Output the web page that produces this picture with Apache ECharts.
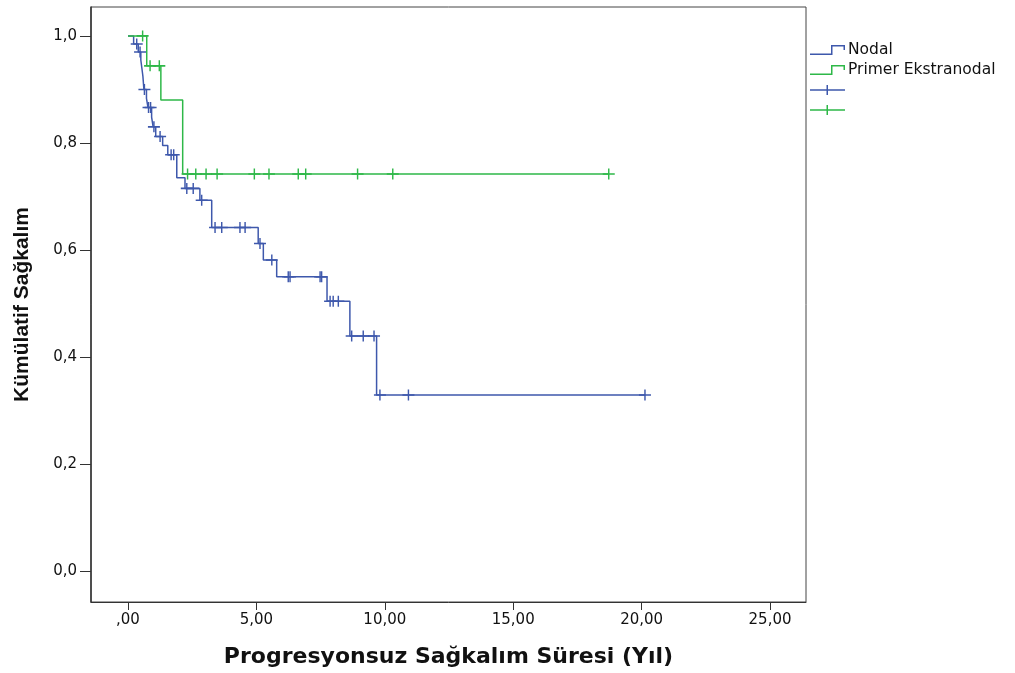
<!DOCTYPE html>
<html>
<head>
<meta charset="utf-8">
<script src="https://cdn.jsdelivr.net/npm/echarts@6/dist/echarts.min.js"></script>
<style>
  html, body { margin: 0; padding: 0; background: #fff; }
  #main { width: 1015px; height: 673px; }
</style>
</head>
<body>
<div id="main"></div>
<script>
// Nodal: zaman (yıl) ve olaydan sonraki kümülatif sağkalım
var nodalT = [0, 0.22, 0.40, 0.50, 0.54, 0.58, 0.62, 0.72, 0.78, 0.92, 0.98, 1.08, 1.35, 1.55, 1.90, 2.22, 2.80, 3.26, 5.07, 5.27, 5.79, 7.75, 8.64, 9.68, 20.13];
var nodalS = [1, 0.985, 0.970, 0.955, 0.940, 0.925, 0.900, 0.883, 0.866, 0.848, 0.830, 0.812, 0.795, 0.778, 0.735, 0.715, 0.693, 0.642, 0.612, 0.581, 0.550, 0.504, 0.439, 0.329, 0.329];
var nodalCensor = [0.34, 0.47, 0.64, 0.80, 0.88, 1.01, 1.25, 1.68, 1.78, 2.29, 2.54, 2.87, 3.39, 3.65, 4.36, 4.56, 5.14, 5.60, 6.24, 6.31, 7.48, 7.54, 7.87, 7.99, 8.19, 8.71, 9.16, 9.58, 9.81, 10.92, 20.13];

// Primer Ekstranodal
var ekstraT = [0, 0.73, 1.28, 2.13, 18.72];
var ekstraS = [1, 0.944, 0.880, 0.742, 0.742];
var ekstraCensor = [0.57, 0.86, 1.22, 2.32, 2.64, 3.04, 3.47, 4.92, 5.49, 6.63, 6.92, 8.94, 10.31, 18.72];

var xTicks = [0, 5, 10, 15, 20, 25];
var xTickLabels = [',00', '5,00', '10,00', '15,00', '20,00', '25,00'];
var yTicks = [0, 0.2, 0.4, 0.6, 0.8, 1.0];
var yTickLabels = ['0,0', '0,2', '0,4', '0,6', '0,8', '1,0'];

var BLUE = '#3E58AC';
var GREEN = '#2EB848';

function pairs(t, s) {
  return t.map(function (v, i) { return [v, s[i]]; });
}
// sansürlü gözlemin o andaki eğri seviyesi
function levelAt(t, s, x) {
  var lv = s[0];
  for (var i = 0; i < t.length; i++) { if (t[i] <= x) lv = s[i]; }
  return lv;
}
function censorPts(c, t, s) {
  return c.map(function (x) { return [x, levelAt(t, s, x)]; });
}

var plusSym = 'path://M44,0 L56,0 L56,43 L100,43 L100,57 L56,57 L56,100 L44,100 L44,57 L0,57 L0,43 L44,43 Z';
var stepIcon = 'path://M0,8.5 L21,8.5 L21,0 L35,0 L35,5 L33.5,5 L33.5,1.5 L22.5,1.5 L22.5,10 L0,10 Z';
var plusIcon = 'path://M0,4.25 L16.5,4.25 L16.5,0 L18,0 L18,4.25 L35,4.25 L35,5.75 L18,5.75 L18,10 L16.5,10 L16.5,5.75 L0,5.75 Z';

var myChart = echarts.init(document.getElementById('main'));

var option = {
  animation: false,
  backgroundColor: '#fff',
  grid: {
    left: 91, top: 7, right: 209, bottom: 71,
    show: true, borderColor: '#444', borderWidth: 1,
    outerBoundsMode: 'none'
  },
  legend: {
    orient: 'vertical',
    left: 810, top: 42, padding: 0,
    itemWidth: 35, itemHeight: 10, itemGap: 4,
    itemStyle: { borderWidth: 0 },
    textStyle: { fontFamily: 'DejaVu Sans', fontSize: 15.5, color: '#111', lineHeight: 16, padding: [0, 0, 0, -2] },
    formatter: function (name) { return name.indexOf('sansür') >= 0 ? ' ' : name; },
    data: [
      { name: 'Nodal', icon: stepIcon },
      { name: 'Primer Ekstranodal', icon: stepIcon },
      { name: 'Nodal-sansür', icon: plusIcon },
      { name: 'Primer Ekstranodal-sansür', icon: plusIcon }
    ]
  },
  xAxis: {
    type: 'value', min: -1.44, max: 26.4,
    splitLine: { show: false },
    axisLine: { show: true, onZero: false, lineStyle: { color: '#333', width: 1 } },
    axisTick: { show: true, length: 8, customValues: xTicks, lineStyle: { color: '#333' } },
    axisLabel: {
      customValues: xTicks, margin: 11,
      fontFamily: 'DejaVu Sans', fontSize: 15, color: '#111',
      formatter: function (v) { return xTickLabels[xTicks.indexOf(v)]; }
    },
    name: 'Progresyonsuz Sağkalım Süresi (Yıl)',
    nameLocation: 'middle', nameGap: 44,
    nameTextStyle: { fontFamily: 'DejaVu Sans', fontWeight: 'bold', fontSize: 22, color: '#111' }
  },
  yAxis: {
    type: 'value', min: -0.058, max: 1.054,
    splitLine: { show: false },
    axisLine: { show: true, onZero: false, lineStyle: { color: '#333', width: 1.5 } },
    axisTick: { show: true, length: 11, customValues: yTicks, lineStyle: { color: '#333' } },
    axisLabel: {
      customValues: yTicks, margin: 14,
      fontFamily: 'DejaVu Sans', fontSize: 15, color: '#111',
      formatter: function (v) { return yTickLabels[yTicks.indexOf(v)]; }
    },
    name: 'Kümülatif Sağkalım',
    nameLocation: 'middle', nameGap: 58, nameRotate: 90,
    nameTextStyle: { fontFamily: 'Liberation Sans', fontWeight: 'bold', fontSize: 21, color: '#111' }
  },
  series: [
    {
      name: 'Nodal', type: 'line', step: 'end', showSymbol: false,
      color: BLUE, lineStyle: { color: BLUE, width: 1.5 },
      data: pairs(nodalT, nodalS), z: 2
    },
    {
      name: 'Nodal-sansür', type: 'scatter', symbol: plusSym, symbolSize: [12, 11],
      itemStyle: { color: BLUE, opacity: 1 },
      data: censorPts(nodalCensor, nodalT, nodalS), z: 3
    },
    {
      name: 'Primer Ekstranodal', type: 'line', step: 'end', showSymbol: false,
      color: GREEN, lineStyle: { color: GREEN, width: 1.5 },
      data: pairs(ekstraT, ekstraS), z: 4
    },
    {
      name: 'Primer Ekstranodal-sansür', type: 'scatter', symbol: plusSym, symbolSize: [12, 11],
      itemStyle: { color: GREEN, opacity: 1 },
      data: censorPts(ekstraCensor, ekstraT, ekstraS), z: 5
    }
  ]
};

myChart.setOption(option);
</script>
</body>
</html>
